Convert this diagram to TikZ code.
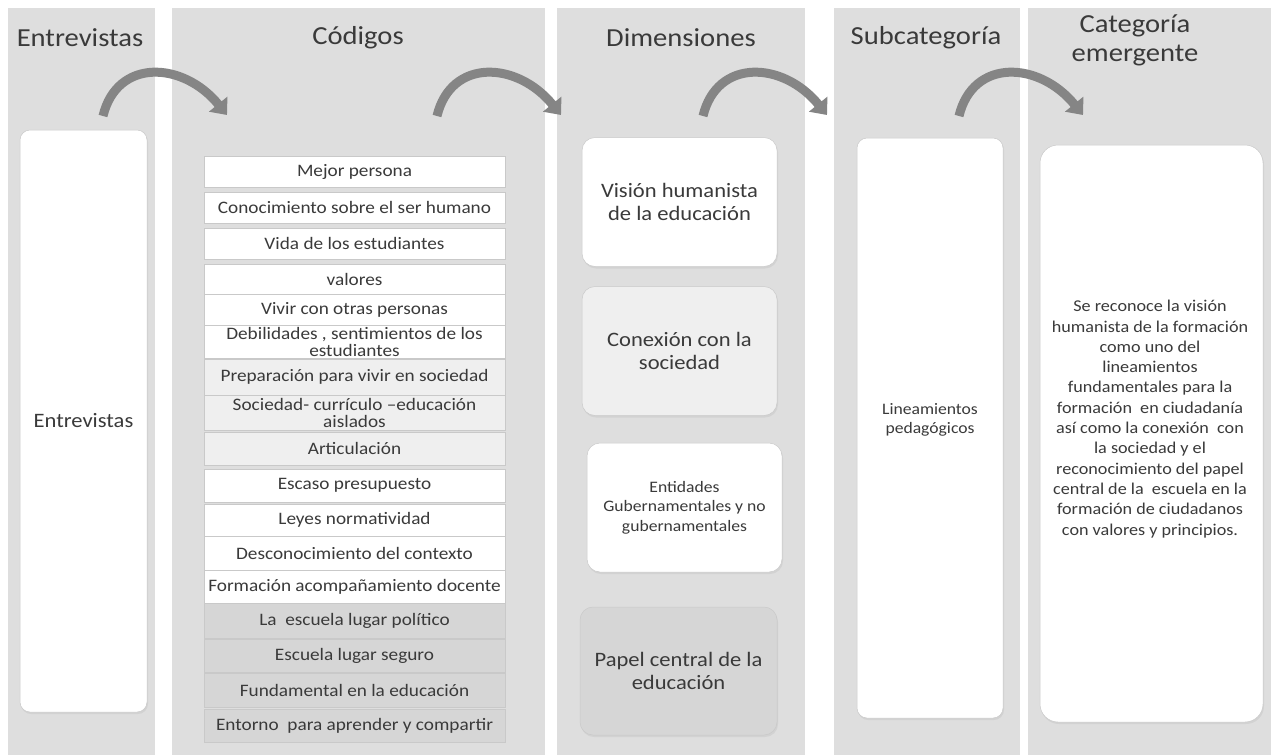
\documentclass[tikz,border=0pt]{standalone}
\usepackage{fontspec}
\setmainfont{Carlito}[FakeStretch=1.1]
\usetikzlibrary{arrows.meta,shadows}
\definecolor{colbg}{HTML}{DEDEDE}
\definecolor{txt}{HTML}{3A3A3A}
\definecolor{rowline}{HTML}{C9C9C9}
\definecolor{lightrow}{HTML}{EFEFEF}
\definecolor{darkrow}{HTML}{D6D6D6}
\definecolor{arrowgray}{HTML}{858585}
\begin{document}
\begin{tikzpicture}[x=1pt,y=-1pt,
  colbox/.style={fill=colbg, draw=none, inner sep=0pt},
  header/.style={font=\fontsize{26}{29}\selectfont, text=txt, align=center},
  code/.style={draw=rowline, line width=0.6pt, minimum width=301pt, inner sep=0pt, text=txt,
    font=\fontsize{17.5}{17}\selectfont, align=center},
  panel/.style={rounded corners=10pt, draw=rowline, line width=0.5pt, fill=white, inner sep=0pt,
    text=txt, align=center, drop shadow={opacity=0.12, shadow xshift=1pt, shadow yshift=-2pt}},
  dim/.style={panel, rounded corners=13pt, minimum width=195pt, minimum height=129pt,
    font=\fontsize{20.5}{23}\selectfont},
  small/.style={font=\fontsize{16.5}{20.3}\selectfont, text=txt, align=center},
  bigarrow/.style={draw=arrowgray, line width=9pt, -{Triangle[width=23pt,length=14pt]}}
]
\useasboundingbox (0,0) rectangle (1271,755);
\fill[white] (0,0) rectangle (1271,755);

% column backgrounds
\node[colbox, minimum width=147pt, minimum height=747pt] (col1) at (81.5,381.5) {};
\node[colbox, minimum width=373pt, minimum height=747pt] (col2) at (358.5,381.5) {};
\node[colbox, minimum width=248pt, minimum height=747pt] (col3) at (681,381.5) {};
\node[colbox, minimum width=186pt, minimum height=747pt] (col4) at (927,381.5) {};
\node[colbox, minimum width=243pt, minimum height=747pt] (col5) at (1149.5,381.5) {};

% headers
\node[header] (h1) at (80,38) {Entrevistas};
\node[header] (h2) at (358,38) {Códigos};
\node[header] (h3) at (681,38) {Dimensiones};
\node[header] (h4) at (926,38) {Subcategoría};
\node[header] (h5) at (1135,40) {Categoría\\emergente};

% arrows
\coordinate (a1s) at (103,116); \coordinate (a1e) at (227,115);
\coordinate (a2s) at (437,116); \coordinate (a2e) at (561,115);
\coordinate (a3s) at (703,116); \coordinate (a3e) at (827,115);
\coordinate (a4s) at (959,116); \coordinate (a4e) at (1083,115);
\foreach \s/\e in {a1s/a1e, a2s/a2e, a3s/a3e, a4s/a4e}
  \draw[bigarrow] (\s) .. controls +(14,-58) and +(-44,-54) .. (\e);

% Entrevistas panel
\node[panel, minimum width=127pt, minimum height=582pt, font=\fontsize{20.5}{23}\selectfont] (ent) at (83.5,421) {Entrevistas};

% codes
\node[code, fill=white, minimum height=31pt] (c1) at (354.5,171.5) {Mejor persona};
\node[code, fill=white, minimum height=31pt] (c2) at (354.5,207.5) {Conocimiento sobre el ser humano};
\node[code, fill=white, minimum height=31pt] (c3) at (354.5,243.5) {Vida de los estudiantes};
\node[code, fill=white, minimum height=30pt] (c4) at (354.5,279) {valores};
\node[code, fill=white, minimum height=31pt] (c5) at (354.5,309.5) {Vivir con otras personas};
\node[code, fill=white, minimum height=33pt] (c6) at (354.5,341.5) {Debilidades , sentimientos de los\\estudiantes};
\node[code, fill=lightrow, minimum height=36pt] (c7) at (354.5,377) {Preparación para vivir en sociedad};
\node[code, fill=lightrow, minimum height=35pt] (c8) at (354.5,412.5) {Sociedad- currículo –educación\\aislados};
\node[code, fill=lightrow, minimum height=33pt] (c9) at (354.5,448.5) {Articulación};
\node[code, fill=white, minimum height=33pt] (c10) at (354.5,485.5) {Escaso presupuesto};
\node[code, fill=white, minimum height=32pt] (c11) at (354.5,520) {Leyes normatividad};
\node[code, fill=white, minimum height=34pt] (c12) at (354.5,553) {Desconocimiento del contexto};
\node[code, fill=white, minimum height=33pt] (c13) at (354.5,586.5) {Formación acompañamiento docente};
\node[code, fill=darkrow, minimum height=35pt] (c14) at (354.5,620.5) {La\ \ escuela lugar político};
\node[code, fill=darkrow, minimum height=33pt] (c15) at (354.5,655.5) {Escuela lugar seguro};
\node[code, fill=darkrow, minimum height=34pt] (c16) at (354.5,690) {Fundamental en la educación};
\node[code, fill=darkrow, minimum height=33pt] (c17) at (354.5,725.5) {Entorno\ \ para aprender y compartir};

% dimensions
\node[dim, fill=white] (d1) at (679.5,202) {Visión humanista\\de la educación};
\node[dim, fill=lightrow] (d2) at (679.5,351) {Conexión con la\\sociedad};
\node[dim, fill=white, font=\fontsize{16}{19.5}\selectfont] (d3) at (684.5,507.5) {Entidades\\Gubernamentales y no\\gubernamentales};
\node[dim, fill=darkrow, minimum width=197pt, minimum height=128pt] (d4) at (678.5,671) {Papel central de la\\educación};

% subcategory
\node[panel, minimum width=146pt, minimum height=580pt] (sub) at (930,428) {};
\node[small, font=\fontsize{16}{19.5}\selectfont] (subt) at (930,420) {Lineamientos\\pedagógicos};

% emergent category
\node[panel, rounded corners=18pt, minimum width=223pt, minimum height=577pt] (cat) at (1151.5,433.5) {};
\node[small] (catt) at (1150,419) {Se reconoce la visión\\humanista de la formación\\como uno del\\lineamientos\\fundamentales para la\\formación\ \ en ciudadanía\\así como la conexión\ \ con\\la sociedad y el\\reconocimiento del papel\\central de la\ \ escuela en la\\formación de ciudadanos\\con valores y principios.};
\end{tikzpicture}
\end{document}
